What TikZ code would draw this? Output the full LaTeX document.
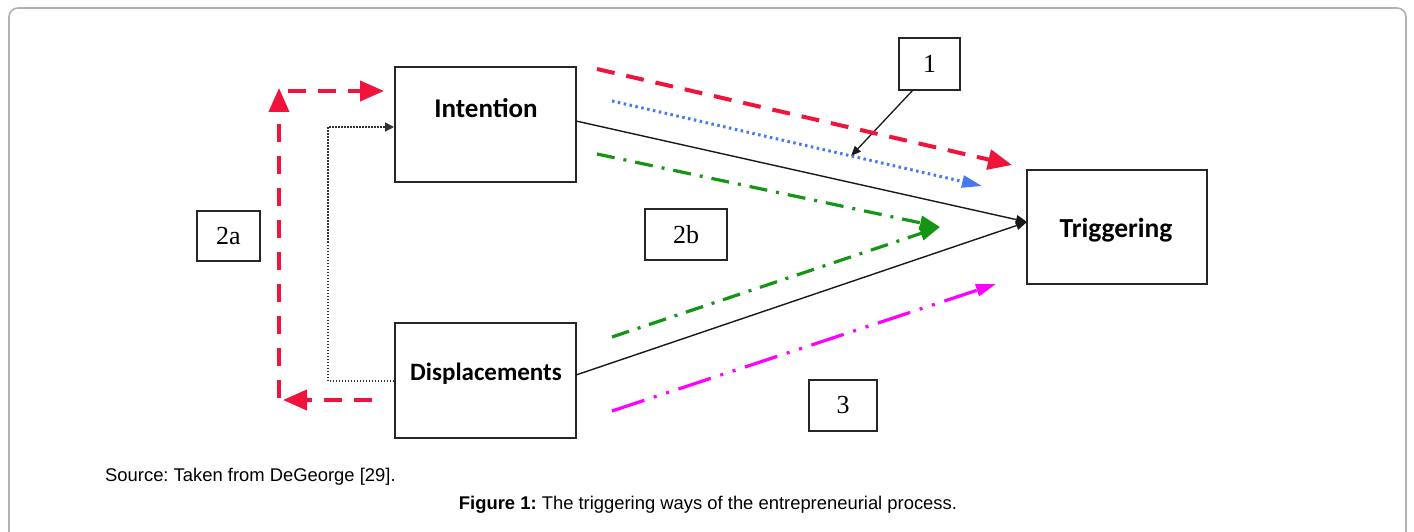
\documentclass[tikz,border=0pt]{standalone}
\usepackage{fontspec}
\setmainfont{Liberation Serif}
\newfontfamily\calib{Carlito}
\newfontfamily\arialf{Liberation Sans}
\usetikzlibrary{arrows.meta}
\frenchspacing
\definecolor{cred}{RGB}{240,20,60}
\definecolor{cblue}{RGB}{70,120,240}
\definecolor{cgreen}{RGB}{20,150,20}
\definecolor{cmag}{RGB}{255,0,255}
\tikzset{
  bigbox/.style={draw=black!85, line width=2pt, minimum width=181pt, minimum height=115pt, inner sep=0pt},
  boxlabel/.style={font=\calib\bfseries, inner sep=0pt},
  numbox/.style={draw=black!85, line width=1.6pt, inner sep=0pt, font=\fontsize{26}{30}\selectfont},
  solidarr/.style={black!90, line width=1.4pt, -{Triangle[length=11pt,width=9pt]}},
  reddash/.style={cred, line width=4pt, dash pattern=on 18pt off 12pt},
  redtip/.style={-{Triangle[length=24pt,width=20pt]}},
  captext/.style={font=\arialf\fontsize{18.4}{22}\selectfont, inner sep=0pt},
}
\begin{document}
\begin{tikzpicture}[x=1pt,y=-1pt]
\useasboundingbox (0,0) rectangle (1414,532);
\fill[white] (0,0) rectangle (1414,532);
\draw[black!30, line width=1.6pt, rounded corners=9pt] (9,540) -- (9,8) -- (1406,8) -- (1406,540);

% main boxes
\node[bigbox] (intbox) at (485.5,124.5) {};
\node[boxlabel] (int) at (486,108) {\fontsize{27}{30}\selectfont Intention};
\node[bigbox] (disbox) at (485.5,380) {};
\node[boxlabel] (dis) at (486,374) {\fontsize{25}{30}\selectfont Displacements};
\node[bigbox, minimum width=180pt, minimum height=114pt] (trig) at (1117,227) {};
\node[boxlabel] (trigl) at (1116,230) {\fontsize{27.5}{30}\selectfont Triggering};

% number boxes
\node[numbox, minimum width=61pt, minimum height=52pt] (n1) at (929.5,64) {1};
\node[numbox, minimum width=63pt, minimum height=50pt] (n2a) at (228.5,236) {2a};
\node[numbox, minimum width=82pt, minimum height=51pt] (n2b) at (686,234.5) {2b};
\node[numbox, minimum width=68pt, minimum height=51pt] (n3) at (843,405.5) {3};

% coordinates
\coordinate (tin) at (1027,222);
\coordinate (intR) at (576,121);
\coordinate (disR) at (576,375);

% solid black lines
\draw[solidarr] (intR) -- (tin);
\draw[solidarr] (disR) -- (tin);

% arrow 1
\coordinate (a1s) at (913,90);
\coordinate (a1e) at (851,156);
\draw[black!90, line width=1.3pt, -{Triangle[length=10pt,width=8pt]}] (a1s) -- (a1e);

% red dashed to triggering
\coordinate (r1s) at (597,69);
\coordinate (r1e) at (1012,165);
\draw[reddash, redtip] (r1s) -- (r1e);

% blue dotted
\coordinate (b1s) at (612,101);
\coordinate (b1e) at (982,186);
\draw[cblue, line width=3pt, dash pattern=on 2.5pt off 3.5pt, -{Triangle[length=20pt,width=12pt]}] (b1s) -- (b1e);

% green dash-dot
\coordinate (gs1) at (597,154);
\coordinate (gs2) at (612,337);
\coordinate (ge) at (940,227);
\draw[cgreen, line width=3.2pt, dash pattern=on 18pt off 9pt on 3pt off 9pt, -{Triangle[length=20pt,width=14pt]}] (gs1) -- (ge);
\draw[cgreen, line width=3.2pt, dash pattern=on 18pt off 9pt on 3pt off 9pt, -{Triangle[length=20pt,width=14pt]}] (gs2) -- (ge);

% magenta dash-dot-dot
\coordinate (ms) at (612,411);
\coordinate (me) at (996,284);
\draw[cmag, line width=3.2pt, dash pattern=on 34pt off 10pt on 3pt off 10pt on 3pt off 10pt, -{Triangle[length=20pt,width=12pt]}] (ms) -- (me);

% red dashed L
\coordinate (rL1) at (372,400);
\coordinate (rL2) at (283,400);
\coordinate (rV1) at (279,398);
\coordinate (rV2) at (279,88);
\coordinate (rH1) at (288,91);
\coordinate (rH2) at (384,91);
\draw[reddash, redtip] (rL1) -- (rL2);
\draw[reddash, dash pattern=on 18pt off 14pt, redtip] (rV1) -- (rV2);
\draw[reddash, redtip] (rH1) -- (rH2);

% black dotted
\coordinate (d1) at (395,381);
\coordinate (d2) at (328,381);
\coordinate (d3) at (328,127);
\draw[black!80, line width=1.3pt, dash pattern=on 1.5pt off 1.5pt, -{Triangle[length=9pt,width=9pt]}] (disbox.west |- d1) -- (d2) -- (d3) -- (intbox.west |- d3);

% captions
\node[captext, anchor=west] (src) at (105,477) {Source: Taken from DeGeorge [29].};
\node[captext] (cap) at (708,505) {\textbf{Figure 1:} The triggering ways of the entrepreneurial process.};
\end{tikzpicture}
\end{document}
